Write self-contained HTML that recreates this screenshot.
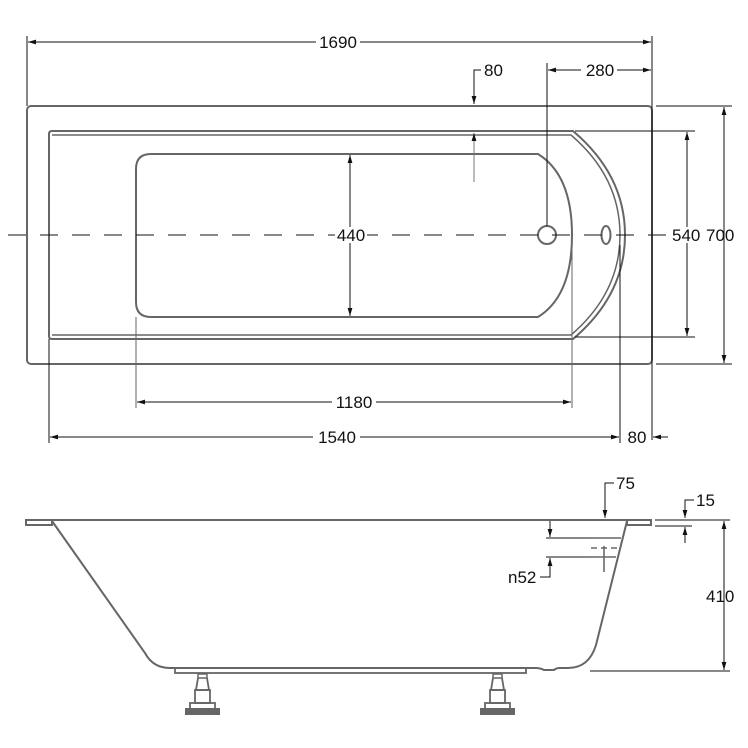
<!DOCTYPE html>
<html><head><meta charset="utf-8"><style>
html,body{margin:0;padding:0;background:#fff;}
svg{display:block;}
text{font-family:"Liberation Sans",sans-serif;font-size:17px;fill:#111;}
</style></head><body>
<svg width="748" height="748" viewBox="0 0 748 748" xmlns="http://www.w3.org/2000/svg">
<defs>
<marker id="a" viewBox="0 0 10 6" refX="10" refY="3" markerWidth="8" markerHeight="5" orient="auto-start-reverse" markerUnits="userSpaceOnUse"><path d="M0,0L10,3L0,6z" fill="#111"/></marker>
</defs>
<!-- TOP VIEW -->
<g fill="none" stroke="#666" stroke-width="2">
<rect x="27" y="106" width="625" height="258" rx="4"/>
<path d="M52,131 L573,131 Q625,175 625,235 Q625,295 573,339 L52,339 Q49,339 49,336 L49,134 Q49,131 52,131 Z"/>
<path d="M52,135 L571,135 Q620,177 620,235 Q620,293 571,335 L52,335" stroke-width="1.5"/>
<path d="M151,154 L538,154 Q572,175 572,235 Q572,296 538,317 L151,317 Q136,317 136,302 L136,169 Q136,154 151,154 Z"/>
<circle cx="547" cy="235" r="9"/>
<ellipse cx="606" cy="235" rx="4.5" ry="9"/>
</g>
<g stroke="#111" stroke-width="1" fill="none">
<line x1="8" y1="235" x2="668" y2="235" stroke-dasharray="18,14"/>
<line x1="27" y1="36" x2="27" y2="106"/>
<line x1="652" y1="36" x2="652" y2="440"/>
<line x1="28" y1="42" x2="316" y2="42" marker-start="url(#a)"/>
<line x1="360" y1="42" x2="651" y2="42" marker-end="url(#a)"/>
<polyline points="481,70 474,70 474,104" marker-end="url(#a)"/>
<line x1="474" y1="182" x2="474" y2="133" marker-end="url(#a)" stroke="#777"/>
<line x1="547" y1="63" x2="547" y2="226"/>
<line x1="548" y1="70" x2="581" y2="70" marker-start="url(#a)"/>
<line x1="617" y1="70" x2="651" y2="70" marker-end="url(#a)"/>
<line x1="350" y1="155" x2="350" y2="316" marker-start="url(#a)" marker-end="url(#a)"/>
<line x1="575" y1="131" x2="695" y2="131"/>
<line x1="575" y1="337" x2="695" y2="337"/>
<line x1="687" y1="132" x2="687" y2="336" marker-start="url(#a)" marker-end="url(#a)"/>
<line x1="656" y1="106" x2="732" y2="106"/>
<line x1="656" y1="364" x2="732" y2="364"/>
<line x1="724" y1="107" x2="724" y2="363" marker-start="url(#a)" marker-end="url(#a)"/>
<line x1="136" y1="317" x2="136" y2="408" stroke="#666"/>
<line x1="572" y1="240" x2="572" y2="408" stroke="#666"/>
<line x1="137" y1="402" x2="332" y2="402" marker-start="url(#a)"/>
<line x1="376" y1="402" x2="571" y2="402" marker-end="url(#a)"/>
<line x1="49" y1="339" x2="49" y2="443"/>
<line x1="620" y1="245" x2="620" y2="443"/>
<line x1="50" y1="437" x2="313" y2="437" marker-start="url(#a)"/>
<line x1="360" y1="437" x2="619" y2="437" marker-end="url(#a)"/>
<line x1="668" y1="437" x2="653" y2="437" marker-end="url(#a)"/>
</g>
<g fill="#fff" stroke="none">
<rect x="335" y="227" width="32" height="16"/>
<rect x="672" y="227" width="30" height="16"/>
</g>
<text x="338" y="48" text-anchor="middle">1690</text>
<text x="484" y="76">80</text>
<text x="600" y="76" text-anchor="middle">280</text>
<text x="351" y="241" text-anchor="middle">440</text>
<text x="672" y="241">540</text>
<text x="706" y="241">700</text>
<text x="354" y="408" text-anchor="middle">1180</text>
<text x="337" y="443" text-anchor="middle">1540</text>
<text x="637" y="443" text-anchor="middle">80</text>

<!-- SIDE VIEW -->
<g fill="none" stroke="#666" stroke-width="2">
<rect x="26" y="520" width="26" height="5"/>
<line x1="52" y1="520" x2="627" y2="520"/>
<path d="M52,521 L145,653 Q153,668 170,668 L175,668"/>
<path d="M627,521 L596,645 Q589,668 568,668 L560,668 Q556,668 554,670 L544,670 Q540,668 536,668 L526,668"/>
<line x1="170" y1="668" x2="526" y2="668"/>
<rect x="175" y="668" width="351" height="5" stroke-width="1.8"/>
<rect x="627" y="520" width="24" height="5"/>
<g id="ft">
<rect x="198" y="674" width="9" height="4" stroke-width="1.5"/>
<path d="M198,678 L196,690 L209,690 L207,678" stroke-width="1.8"/>
<rect x="195" y="690" width="15" height="13" stroke-width="1.8"/>
<rect x="190" y="703" width="25" height="6" stroke-width="1.8"/>
<rect x="186" y="709" width="33" height="5" fill="#666"/>
</g>
<use href="#ft" x="295"/>
</g>
<g stroke="#111" stroke-width="1" fill="none">
<polyline points="614,483 605,483 605,518" marker-end="url(#a)"/>
<polyline points="694,500 685,500 685,518" marker-end="url(#a)"/>
<line x1="685" y1="543" x2="685" y2="527" marker-end="url(#a)"/>
<line x1="655" y1="520" x2="692" y2="520"/>
<line x1="655" y1="526" x2="692" y2="526"/>
<line x1="655" y1="520" x2="730" y2="520"/>
<line x1="590" y1="671" x2="730" y2="671"/>
<line x1="724" y1="521" x2="724" y2="670" marker-start="url(#a)" marker-end="url(#a)"/>
<line x1="546" y1="538" x2="590" y2="538"/>
<line x1="546" y1="557" x2="590" y2="557"/>
<line x1="550" y1="521" x2="550" y2="537" marker-end="url(#a)"/>
<polyline points="540,577 550,577 550,558" marker-end="url(#a)"/>
<line x1="604" y1="546" x2="604" y2="572"/>
</g>
<g stroke="#666" stroke-width="1.5" fill="none">
<line x1="590" y1="538" x2="621" y2="538"/>
<line x1="590" y1="557" x2="616" y2="557"/>
<line x1="591" y1="548" x2="619" y2="548" stroke-dasharray="6,4"/>
</g>
<text x="616" y="489">75</text>
<text x="696" y="506">15</text>
<text x="706" y="602">410</text>
<text x="508" y="583">n52</text>
</svg>
</body></html>
